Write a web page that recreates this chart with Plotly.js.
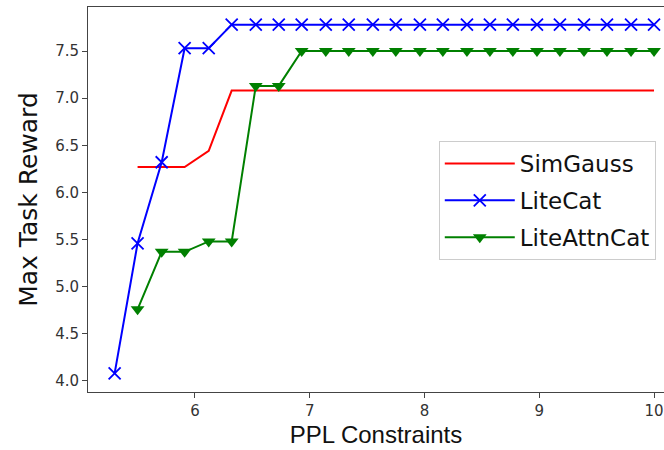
<!DOCTYPE html>
<html>
<head>
<meta charset="utf-8">
<script src="https://cdn.plot.ly/plotly-3.0.1.min.js"></script>
<style>html,body{margin:0;padding:0;background:#fff;}#chart{width:664px;height:450px;}</style>
</head>
<body>
<div id="chart"></div>
<script>
const pplX = [5.30, 5.50, 5.71, 5.91, 6.12, 6.32, 6.53, 6.73, 6.93, 7.14, 7.34, 7.55, 7.75, 7.96, 8.16, 8.37, 8.57, 8.77, 8.98, 9.18, 9.39, 9.59, 9.80, 10.00];
const simGauss = [null, 6.27, 6.27, 6.27, 6.44, 7.08, 7.08, 7.08, 7.08, 7.08, 7.08, 7.08, 7.08, 7.08, 7.08, 7.08, 7.08, 7.08, 7.08, 7.08, 7.08, 7.08, 7.08, 7.08];
const liteCat = [4.08, 5.46, 6.32, 7.53, 7.53, 7.78, 7.78, 7.78, 7.78, 7.78, 7.78, 7.78, 7.78, 7.78, 7.78, 7.78, 7.78, 7.78, 7.78, 7.78, 7.78, 7.78, 7.78, 7.78];
const liteAttnCat = [null, 4.76, 5.37, 5.37, 5.48, 5.48, 7.13, 7.13, 7.50, 7.50, 7.50, 7.50, 7.50, 7.50, 7.50, 7.50, 7.50, 7.50, 7.50, 7.50, 7.50, 7.50, 7.50, 7.50];
const seriesNames = ["SimGauss", "LiteCat", "LiteAttnCat"];
const xTicks = [6, 7, 8, 9, 10];
const yTicks = [4.0, 4.5, 5.0, 5.5, 6.0, 6.5, 7.0, 7.5];

const traces = [
  {x: pplX, y: simGauss, name: seriesNames[0], mode: "lines", legendgroup: "a",
   line: {color: "#ff0000", width: 2}},
  {x: pplX, y: liteCat, name: seriesNames[1], mode: "lines+markers", legendgroup: "b",
   line: {color: "#0000ff", width: 2},
   marker: {symbol: "x-thin-open", size: 12, color: "#0000ff", line: {color: "#0000ff", width: 1.8}}},
  {x: pplX, y: liteAttnCat, name: seriesNames[2], mode: "lines+markers", legendgroup: "c",
   line: {color: "#008000", width: 2},
   marker: {symbol: "triangle-down", size: 12, color: "#008000"}}
];

const layout = {
  width: 664, height: 450,
  margin: {l: 88, r: 0, t: 7, b: 58},
  paper_bgcolor: "#fff", plot_bgcolor: "#fff",
  showlegend: true,
  legend: {x: 0.609, y: 0.652, xanchor: "left", yanchor: "top",
    bgcolor: "#fff", bordercolor: "#cccccc", borderwidth: 1,
    font: {family: "DejaVu Sans", size: 23, color: "#111"},
    traceorder: "grouped", tracegroupgap: 4, itemwidth: 70},
  xaxis: {range: [5.068, 10.087], tickvals: xTicks, ticktext: xTicks.map(String),
    showgrid: false, zeroline: false, showline: true, linecolor: "#444", linewidth: 1, mirror: true,
    ticks: "outside", ticklen: 5, tickcolor: "#444",
    tickfont: {family: "DejaVu Sans", size: 15, color: "#333"},
    title: {text: "PPL Constraints", font: {family: "Liberation Sans", size: 24, color: "#111"}, standoff: 7}},
  yaxis: {range: [3.883, 7.967], tickvals: yTicks, ticktext: yTicks.map(v => v.toFixed(1)),
    showgrid: false, zeroline: false, showline: true, linecolor: "#444", linewidth: 1,
    ticks: "outside", ticklen: 5, tickcolor: "#444",
    tickfont: {family: "DejaVu Sans", size: 15, color: "#333"},
    title: {text: "Max Task Reward", font: {family: "DejaVu Sans", size: 25, color: "#111"}, standoff: 10}}
};

Plotly.newPlot("chart", traces, layout, {displayModeBar: false, staticPlot: true});
</script>
</body>
</html>
